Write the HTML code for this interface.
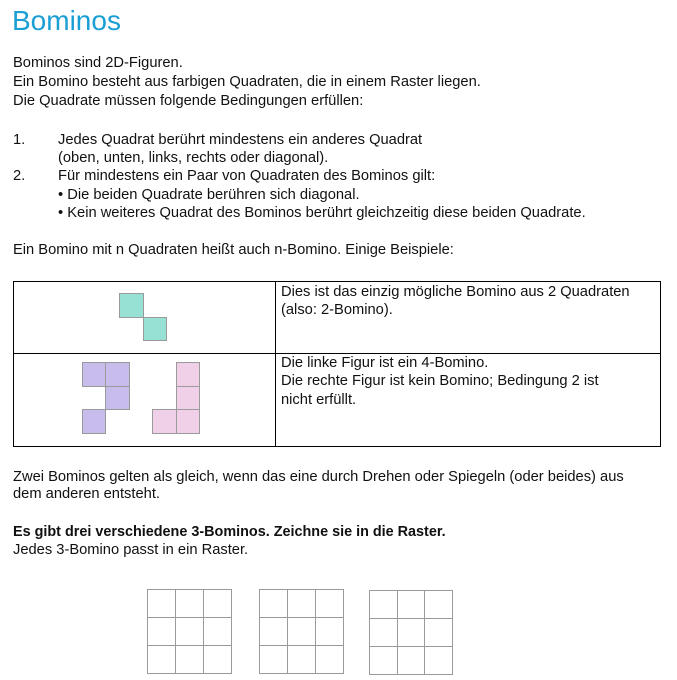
<!DOCTYPE html>
<html><head><meta charset="utf-8"><style>
body{margin:0;width:677px;height:680px;background:#fff;position:relative;font-family:"Liberation Sans",sans-serif;color:#111;overflow:hidden}
.t{position:absolute;font-size:14.7px;line-height:18px;white-space:nowrap}
.s{position:absolute;box-sizing:border-box;border:1px solid #9a9a9a}
</style></head><body>
<div class="t" style="left:12px;top:4px;font-size:28px;line-height:34px;color:#1a9fd4">Bominos</div>
<div class="t" style="left:13px;top:54px">Bominos sind 2D-Figuren.</div>
<div class="t" style="left:13px;top:73px">Ein Bomino besteht aus farbigen Quadraten, die in einem Raster liegen.</div>
<div class="t" style="left:13px;top:92px">Die Quadrate müssen folgende Bedingungen erfüllen:</div>
<div class="t" style="left:13px;top:131px">1.</div>
<div class="t" style="left:58px;top:131px">Jedes Quadrat berührt mindestens ein anderes Quadrat</div>
<div class="t" style="left:58px;top:149px">(oben, unten, links, rechts oder diagonal).</div>
<div class="t" style="left:13px;top:167px">2.</div>
<div class="t" style="left:58px;top:167px">Für mindestens ein Paar von Quadraten des Bominos gilt:</div>
<div class="t" style="left:58px;top:186px">• Die beiden Quadrate berühren sich diagonal.</div>
<div class="t" style="left:58px;top:204px">• Kein weiteres Quadrat des Bominos berührt gleichzeitig diese beiden Quadrate.</div>
<div class="t" style="left:13px;top:241px">Ein Bomino mit n Quadraten heißt auch n-Bomino. Einige Beispiele:</div>

<div style="position:absolute;left:13px;top:281px;width:648px;height:166px;box-sizing:border-box;border:1px solid #000"></div>
<div style="position:absolute;left:275px;top:281px;width:1px;height:166px;background:#000"></div>
<div style="position:absolute;left:13px;top:353px;width:648px;height:1px;background:#000"></div>

<div class="s" style="left:119px;top:293px;width:25px;height:25px;background:#97e0d4"></div>
<div class="s" style="left:143px;top:317px;width:24px;height:24px;background:#97e0d4"></div>

<div class="s" style="left:82px;top:362px;width:24px;height:25px;background:#c8bcec"></div>
<div class="s" style="left:105px;top:362px;width:25px;height:25px;background:#c8bcec"></div>
<div class="s" style="left:105px;top:386px;width:25px;height:24px;background:#c8bcec"></div>
<div class="s" style="left:82px;top:409px;width:24px;height:25px;background:#c8bcec"></div>

<div class="s" style="left:176px;top:362px;width:24px;height:25px;background:#f0d0e8"></div>
<div class="s" style="left:176px;top:386px;width:24px;height:24px;background:#f0d0e8"></div>
<div class="s" style="left:152px;top:409px;width:25px;height:25px;background:#f0d0e8"></div>
<div class="s" style="left:176px;top:409px;width:24px;height:25px;background:#f0d0e8"></div>

<div class="t" style="left:281px;top:283px">Dies ist das einzig mögliche Bomino aus 2 Quadraten</div>
<div class="t" style="left:281px;top:301px">(also: 2-Bomino).</div>
<div class="t" style="left:281px;top:354px">Die linke Figur ist ein 4-Bomino.</div>
<div class="t" style="left:281px;top:372px">Die rechte Figur ist kein Bomino; Bedingung 2 ist</div>
<div class="t" style="left:281px;top:391px">nicht erfüllt.</div>

<div class="t" style="left:13px;top:468px">Zwei Bominos gelten als gleich, wenn das eine durch Drehen oder Spiegeln (oder beides) aus</div>
<div class="t" style="left:13px;top:485px">dem anderen entsteht.</div>
<div class="t" style="left:13px;top:523px;font-weight:bold;font-size:14.4px">Es gibt drei verschiedene 3-Bominos. Zeichne sie in die Raster.</div>
<div class="t" style="left:13px;top:541px">Jedes 3-Bomino passt in ein Raster.</div>

<svg style="position:absolute;left:0;top:0" width="677" height="680">
<g stroke="#9a9a9a" stroke-width="1" fill="none">
<g transform="translate(147.5,589.5)"><rect width="84" height="84"/><path d="M28 0V84M56 0V84M0 28H84M0 56H84"/></g>
<g transform="translate(259.5,589.5)"><rect width="84" height="84"/><path d="M28 0V84M56 0V84M0 28H84M0 56H84"/></g>
<g transform="translate(369.5,590.5)"><rect width="83" height="84"/><path d="M28 0V84M55 0V84M0 28H83M0 56H83"/></g>
</g></svg>
</body></html>
